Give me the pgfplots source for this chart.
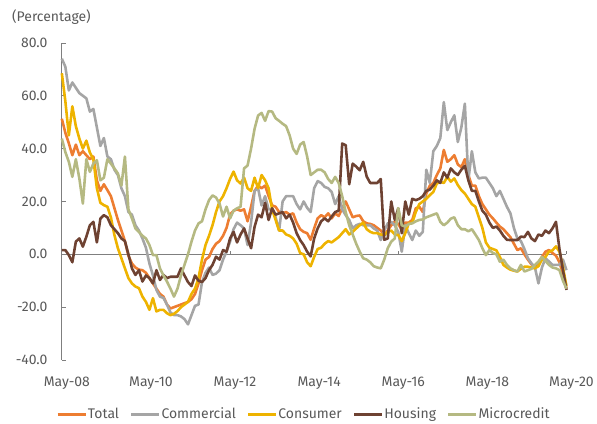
\documentclass[border=0pt]{standalone}
\usepackage{pgfplots}
\pgfplotsset{compat=1.18}
\usepackage{pgfplotstable}
\usepackage{fontspec}
\setmainfont{Fira Sans}
\definecolor{cTotal}{HTML}{ED7D31}
\definecolor{cComm}{HTML}{A5A5A5}
\definecolor{cCons}{HTML}{EEB300}
\definecolor{cHous}{HTML}{6E4232}
\definecolor{cMicro}{HTML}{B5B982}
\definecolor{axisgray}{HTML}{7F7F7F}
\definecolor{textgray}{HTML}{595959}

\pgfplotstableread{
m total comm cons hous micro
0 51.3 74 68.5 1.6 43.8
1 46 71 58 1.6 38.7
2 42 62 45 -0.3 35
3 37.5 65 56 -3 29.3
4 41.5 63 48.5 4.8 36
5 37.5 61 43.8 6 28.7
6 39 60 40 2.9 19.2
7 37.5 59 43 6.7 36
8 36 54 38.5 11 31.2
9 37 55 36 12.3 34.3
10 28 48 25 4.5 35.6
11 24 41 19.5 13.5 28
12 26.5 44 18.6 14.8 29
13 24.3 37 18 14 36
14 22 36 14 11 34.3
15 17.5 32 7.3 9.5 32.5
16 13 30 2.3 8 30.6
17 9 25 -1.5 6 26
18 5 22 -5.3 5 37
19 -0.5 16 -9 0 17
20 -3.5 15 -11 -5.3 13.6
21 -5 11 -12.2 -7.8 9.8
22 -5.8 9 -12.8 -6 8.5
23 -6 6 -16 -10.3 7
24 -7 2.5 -18 -8 6
25 -9 -3.5 -21 -9 3.5
26 -11 -8 -16.6 -11 -0.3
27 -13 -13.5 -21.6 -6 -0.3
28 -15 -16 -21 -9.7 -5.3
29 -16 -16.5 -21 -7.8 -8
30 -19 -19 -22.3 -9 -10.3
31 -20.5 -22 -23 -8.5 -13
32 -20 -23 -22.5 -8.5 -16
33 -19.5 -23 -21.5 -8.5 -13
34 -19 -23.5 -20 -5.3 -8
35 -18.5 -24.5 -19 -8 -4
36 -18 -26.5 -18 -10.5 0
37 -17 -23 -15 -12 4.8
38 -15 -19.5 -13 -8 9
39 -11 -19 -9 -10 11.7
40 -6 -10.5 -2 -10.5 12.5
41 -2 -7 3.5 -9 17
42 -1 -5 7 -6 20.5
43 2 -7.8 11 -4 22.3
44 4 -7.3 16 -0.9 21.5
45 5 -6 20 -2 19.2
46 7 -2 22 1.6 14.3
47 10 1 25 1 18
48 15 4.8 28.5 6 13.6
49 16.5 9.5 31.3 8.5 16.5
50 17 12 28 4.5 17.4
51 16.5 11 26.8 7.5 18
52 17 9.8 29 9.8 32.5
53 12.5 3.5 25 6 33.6
54 18 12 24 2.3 40
55 24 24 29 10.4 47.5
56 26 25 25 15 52.5
57 25 18.5 30 14 53.5
58 26 22 28 19.5 50.5
59 22 17 25 13 54.2
60 18.5 17 17 17.4 54
61 18 14 13 15 51.5
62 16 9 9 15.5 50.5
63 15.5 20 9 16 49.4
64 16 22 7.5 13.6 48.5
65 15 22 7 15 45
66 15.5 22 6 12 40
67 12 19 4 8 38
68 9.5 17 0.5 5.4 41.5
69 8.5 20 0 3.5 42.5
70 8 17.6 -3 1 37
71 5.5 16 -4.5 -0.8 30
72 9.8 25 -1 6 31
73 13.6 27.7 2 9.8 32
74 14.8 27 2.5 12.5 32
75 14 25.5 4 13.6 31
76 15.5 25 5 12.5 28.5
77 13.6 23.6 4.5 14.3 27
78 15.5 19 5.5 16 29.3
79 14.5 22 6.5 16.5 27
80 17.4 17 8 41.9 22
81 20 14.8 9.5 41.3 16
82 17 13 7.5 26.5 11
83 14 9.8 8.5 34.3 7.5
84 14.5 11 9.8 33.2 4
85 14.7 11.5 11 31.8 1
86 12.5 11 12 35 -1.5
87 11.7 11 9.5 29.4 -2
88 11.5 11 8.5 27 -3
89 11 9.8 8 27 -4.5
90 10 9 8 27 -5
91 9 5.4 7.5 28.5 -5.3
92 7.3 9 7.3 5.5 -2
93 9 11.7 8.5 6 2.3
94 11 12.3 9 20 4.8
95 12.3 11 7.5 13 6
96 11.5 8.5 7.3 17.4 17.5
97 9.2 1 5 8 11
98 12 11 8 20 10.5
99 12 8 11.7 15 11.5
100 13 5.4 12 21 11.7
101 17.4 9 16 20.5 12.5
102 18 7 19 21 13
103 16 8.5 20 22 13.2
104 23 32 21 24 14
105 26 27 22.4 24.5 14.5
106 27 39 23.6 26 15
107 30 41 26.8 28 15.5
108 32.5 44 27.4 27 12.3
109 39.5 57.6 27 31 11
110 35 47 29.3 29 12
111 36 50 27.5 32.5 13.5
112 37.5 52.6 28.7 31 14
113 34 42.5 26.2 30 11
114 33 48 24.3 32 9.5
115 36 57 23 33.5 9.5
116 30 28 21 28 8.7
117 26 39 19 24 9.5
118 26 31 18 24 7.5
119 22 28.7 14 20 5.4
120 19 29 10 16.5 2.3
121 17 29 4.5 15 -0.3
122 15 27 2.5 12 1.6
123 13.6 25 2 10 0.5
124 12 22 1.5 10.5 0
125 10.5 24 -1 9 -2.8
126 9.5 21 -4 7 -2
127 8 18 -5 5.5 -4
128 6.5 15.5 -5.8 5.4 -5.3
129 4 10 -6.2 5.4 -6
130 1.6 6 -6.5 5.4 -6.5
131 2.3 5 -5.5 6.7 -4
132 0 2 -4.7 6.5 -6.5
133 -2 -1.5 -4.7 8.5 -6
134 -3.8 -3.4 -5 6 -5.5
135 -4.5 -5 -5.3 5 -4
136 -3 -11 -4.5 7.5 -2.8
137 -1 -5 -2 7 -1
138 1 -1.5 -1 9 -2.5
139 1.6 -2.7 1 8 -4
140 0.5 -4 1.5 9.8 -5
141 -0.5 -4 3 12.3 -5.3
142 -3 -4 1 2 -6
143 -7.5 -2 -5 -6 -10
144 -13 -6 -12 -13.5 -13
}\datatable

\begin{document}
\begin{tikzpicture}[font=\fontsize{14bp}{16bp}\selectfont]
\path (-62bp,-61bp) rectangle (535bp,361bp);
\begin{axis}[
  at={(0,0)}, anchor=south west,
  scale only axis, width=506bp, height=318bp,
  xmin=0, xmax=144, ymin=-40, ymax=80,
  axis x line=bottom, axis y line=left,
  axis line style={-},
  x axis line style={draw=none},
  y axis line style={draw=axisgray, line width=0.75bp},
  xtick={0,24,48,72,96,120,144},
  xticklabels={May-08,May-10,May-12,May-14,May-16,May-18,May-20},
  xtick style={draw=none},
  ytick={-40,-20,0,20,40,60,80},
  ytick style={draw=axisgray, line width=0.75bp},
  tick align=inside, major tick length=4bp,
  every tick label/.append style={text=textgray},
  xticklabel style={yshift=-13bp, xshift=5bp},
  yticklabel style={xshift=-11bp, /pgf/number format/.cd, fixed, fixed zerofill, precision=1, assume math mode=true},
  legend style={at={(0.479,-0.171)}, anchor=center, draw=none, fill=none, text=textgray,
    legend columns=-1, /tikz/every even column/.append style={column sep=10bp},
    nodes={inner sep=1bp}},
  legend image code/.code={\draw[#1] (0bp,0bp) -- (28bp,0bp);},
  clip=false,
]
\draw[axisgray, line width=0.75bp] (axis cs:0,0) -- (axis cs:144,0);
\draw[axisgray, line width=0.75bp] (axis cs:48,0) -- ([yshift=3bp]axis cs:48,0);
\draw[axisgray, line width=0.75bp] (axis cs:96,0) -- ([yshift=3bp]axis cs:96,0);
\draw[axisgray, line width=0.75bp] (axis cs:144,0) -- ([yshift=3bp]axis cs:144,0);
\addplot[cTotal, line width=2.6bp, line join=round] table[x=m,y=total]{\datatable};
\addplot[cComm, line width=2.6bp, line join=round] table[x=m,y=comm]{\datatable};
\addplot[cCons, line width=2.6bp, line join=round] table[x=m,y=cons]{\datatable};
\addplot[cHous, line width=2.6bp, line join=round] table[x=m,y=hous]{\datatable};
\addplot[cMicro, line width=2.6bp, line join=round] table[x=m,y=micro]{\datatable};
\legend{Total,Commercial,Consumer,Housing,Microcredit}
\end{axis}
\node[anchor=west, text=textgray, inner sep=0pt] at (-50bp,343.5bp) {(Percentage)};
\end{tikzpicture}
\end{document}
